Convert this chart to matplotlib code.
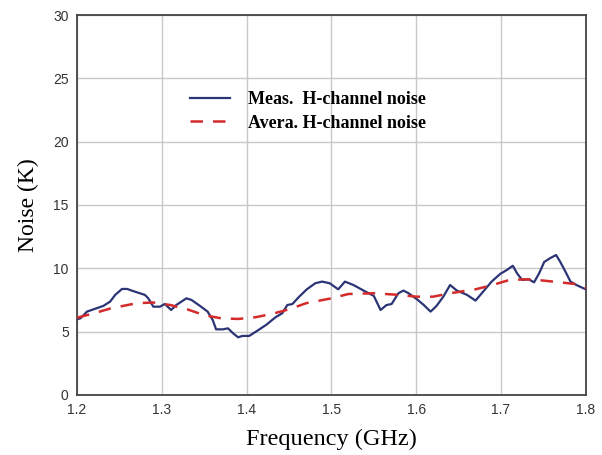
import matplotlib
matplotlib.use("Agg")
import matplotlib.pyplot as plt
from matplotlib.ticker import FixedLocator

meas_freq = [1.200, 1.204, 1.2117, 1.2195, 1.231, 1.239, 1.245, 1.253, 1.259, 1.268, 1.280, 1.284,
             1.290, 1.2977, 1.3035, 1.311, 1.317, 1.329, 1.335, 1.345, 1.354, 1.360, 1.364, 1.372,
             1.378, 1.384, 1.390, 1.395, 1.403, 1.411, 1.423, 1.434, 1.442, 1.448, 1.454, 1.462,
             1.471, 1.481, 1.489, 1.498, 1.508, 1.516, 1.526, 1.538, 1.550, 1.558, 1.565, 1.571,
             1.579, 1.585, 1.591, 1.601, 1.609, 1.617, 1.624, 1.632, 1.640, 1.648, 1.660, 1.670,
             1.679, 1.689, 1.699, 1.707, 1.714, 1.719, 1.725, 1.733, 1.739, 1.745, 1.751, 1.758,
             1.765, 1.770, 1.776, 1.782, 1.789, 1.800]
meas_noise = [5.97, 6.05, 6.58, 6.76, 7.03, 7.37, 7.90, 8.37, 8.37, 8.16, 7.90, 7.63,
              6.97, 6.97, 7.18, 6.71, 7.10, 7.63, 7.50, 7.03, 6.58, 5.92, 5.18, 5.18,
              5.26, 4.87, 4.55, 4.66, 4.66, 5.00, 5.53, 6.13, 6.45, 7.10, 7.18, 7.76,
              8.34, 8.82, 8.95, 8.82, 8.34, 8.95, 8.68, 8.24, 7.82, 6.71, 7.10, 7.18,
              8.03, 8.24, 8.03, 7.55, 7.10, 6.58, 7.03, 7.76, 8.68, 8.24, 7.90, 7.45,
              8.16, 8.95, 9.55, 9.87, 10.20, 9.60, 9.08, 9.13, 8.89, 9.60, 10.50, 10.80,
              11.05, 10.50, 9.74, 8.95, 8.68, 8.34]

avg_freq = [1.20, 1.22, 1.24, 1.27, 1.29, 1.31, 1.33, 1.35, 1.37, 1.39, 1.41, 1.43, 1.45,
            1.47, 1.49, 1.50, 1.52, 1.55, 1.58, 1.60, 1.62, 1.64, 1.67, 1.69, 1.71, 1.73,
            1.75, 1.77, 1.79, 1.80]
avg_noise = [6.10, 6.45, 6.84, 7.24, 7.30, 7.10, 6.76, 6.30, 6.05, 6.00, 6.13, 6.40, 6.76,
             7.24, 7.50, 7.63, 7.97, 8.03, 7.90, 7.76, 7.76, 8.03, 8.34, 8.68, 9.08, 9.13,
             9.03, 8.89, 8.74, 8.45]

x_ticks = [1.2, 1.3, 1.4, 1.5, 1.6, 1.7, 1.8]
y_ticks = [0, 5, 10, 15, 20, 25, 30]

fig = plt.figure(figsize=(6.02, 4.55), dpi=100)
ax = fig.add_axes([0.128, 0.132, 0.845, 0.835])

ax.plot(meas_freq, meas_noise, color="#2b3575", lw=1.6, label="Meas.  H-channel noise", zorder=3)
ax.plot(avg_freq, avg_noise, color="#d42a2a", lw=1.8, ls=(0, (5, 4)), label="Avera. H-channel noise", zorder=4)

ax.set_xlim(1.2, 1.8)
ax.set_ylim(0, 30)
ax.xaxis.set_major_locator(FixedLocator(x_ticks))
ax.yaxis.set_major_locator(FixedLocator(y_ticks))
ax.set_xticklabels([f"{v:.1f}" for v in x_ticks], family="Liberation Sans", fontsize=10, color="#333333")
ax.set_yticklabels([str(v) for v in y_ticks], family="Liberation Sans", fontsize=10, color="#333333")
ax.tick_params(length=0, pad=6)
ax.grid(True, color="#c8c8c8", lw=1.0)
ax.set_axisbelow(True)
for s in ax.spines.values():
    s.set_color("#444444")
    s.set_linewidth(1.3)

ax.set_xlabel("Frequency (GHz)", family="Liberation Serif", fontsize=17.5, labelpad=8)
ax.set_ylabel("Noise (K)", family="Liberation Serif", fontsize=17, labelpad=10)

leg = ax.legend(loc="upper left", bbox_to_anchor=(0.222, 0.80), frameon=False,
                borderpad=0, borderaxespad=0,
                prop={"family": "Liberation Serif", "weight": "bold", "size": 13},
                handlelength=2.2, handletextpad=1.0, labelspacing=0.36)

fig.savefig("out.png", dpi=100)
